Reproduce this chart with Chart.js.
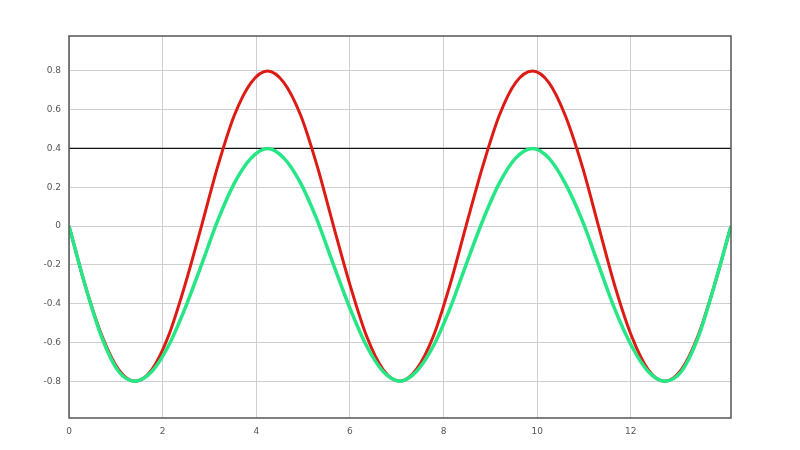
<!DOCTYPE html>
<html>
<head>
<meta charset="utf-8">
<script src="https://cdn.jsdelivr.net/npm/chart.js@4/dist/chart.umd.min.js"></script>
<style>
  html, body { margin: 0; padding: 0; background: #fff; }
  #wrap { width: 800px; height: 450px; }
</style>
</head>
<body>
<div id="wrap"><canvas id="c" width="800" height="450"></canvas></div>
<script>
// valores
const xs = [0, 0.35, 0.71, 1.06, 1.41, 1.77, 2.12, 2.47, 2.83, 3.18, 3.53, 3.89, 4.24, 4.59, 4.95, 5.30,
  5.65, 6.01, 6.36, 6.71, 7.07, 7.42, 7.78, 8.13, 8.48, 8.84, 9.19, 9.54, 9.90, 10.25, 10.60, 10.96,
  11.31, 11.66, 12.02, 12.37, 12.72, 13.08, 13.43, 13.78, 14.14];
const redVals = [0, -0.31, -0.57, -0.74, -0.8, -0.74, -0.57, -0.31, 0, 0.31, 0.57, 0.74, 0.8, 0.74, 0.57, 0.31,
  0, -0.31, -0.57, -0.74, -0.8, -0.74, -0.57, -0.31, 0, 0.31, 0.57, 0.74, 0.8, 0.74, 0.57, 0.31,
  0, -0.31, -0.57, -0.74, -0.8, -0.74, -0.57, -0.31, 0];
const greenVals = [0, -0.31, -0.58, -0.75, -0.8, -0.75, -0.62, -0.43, -0.2, 0.03, 0.22, 0.35, 0.4, 0.35, 0.22, 0.03,
  -0.2, -0.43, -0.62, -0.75, -0.8, -0.75, -0.62, -0.43, -0.2, 0.03, 0.22, 0.35, 0.4, 0.35, 0.22, 0.03,
  -0.2, -0.43, -0.62, -0.75, -0.8, -0.75, -0.58, -0.31, 0];
const refLevel = 0.4;
const xTicks = [0, 2, 4, 6, 8, 10, 12];
const yTicks = [-0.8, -0.6, -0.4, -0.2, 0, 0.2, 0.4, 0.6, 0.8];

const pts = vals => xs.map((x, i) => ({ x, y: vals[i] }));

// marco completo alrededor del area
const frame = {
  id: 'frame',
  afterDraw(chart) {
    const { ctx, chartArea: a } = chart;
    ctx.save();
    ctx.strokeStyle = '#555';
    ctx.lineWidth = 1.5;
    ctx.strokeRect(a.left, a.top, a.right - a.left, a.bottom - a.top);
    ctx.restore();
  }
};

// el primer dataset queda encima
new Chart(document.getElementById('c'), {
  type: 'line',
  data: {
    datasets: [
      { data: pts(greenVals), borderColor: '#26e686', borderWidth: 3.5, pointRadius: 0, cubicInterpolationMode: 'monotone' },
      { data: pts(redVals), borderColor: '#dd1a14', borderWidth: 3, pointRadius: 0, cubicInterpolationMode: 'monotone' },
      { data: [{ x: xs[0], y: refLevel }, { x: xs[xs.length - 1], y: refLevel }], borderColor: '#111', borderWidth: 1.2, pointRadius: 0 },
    ],
  },
  options: {
    responsive: false,
    animation: false,
    layout: { padding: { top: 36, right: 69, left: 0, bottom: 0 } },
    plugins: { legend: { display: false }, tooltip: { enabled: false } },
    scales: {
      x: {
        type: 'linear', min: 0, max: 14.14,
        afterBuildTicks: s => { s.ticks = xTicks.map(v => ({ value: v })); },
        afterFit: s => { s.height = 32; },
        grid: { color: '#cfcfcf', lineWidth: 1, drawTicks: false },
        border: { display: false },
        ticks: { color: '#555', font: { size: 9, family: 'DejaVu Sans' }, padding: 8, maxRotation: 0, callback: v => String(v) },
      },
      y: {
        type: 'linear', min: -0.99, max: 0.98,
        afterBuildTicks: s => { s.ticks = yTicks.map(v => ({ value: v })); },
        afterFit: s => { s.width = 69; },
        grid: { color: '#cfcfcf', lineWidth: 1, drawTicks: false },
        border: { display: false },
        ticks: { color: '#555', font: { size: 9, family: 'DejaVu Sans' }, padding: 8, callback: v => String(Math.round(v * 10) / 10) },
      },
    },
  },
  plugins: [frame],
});
</script>
</body>
</html>
